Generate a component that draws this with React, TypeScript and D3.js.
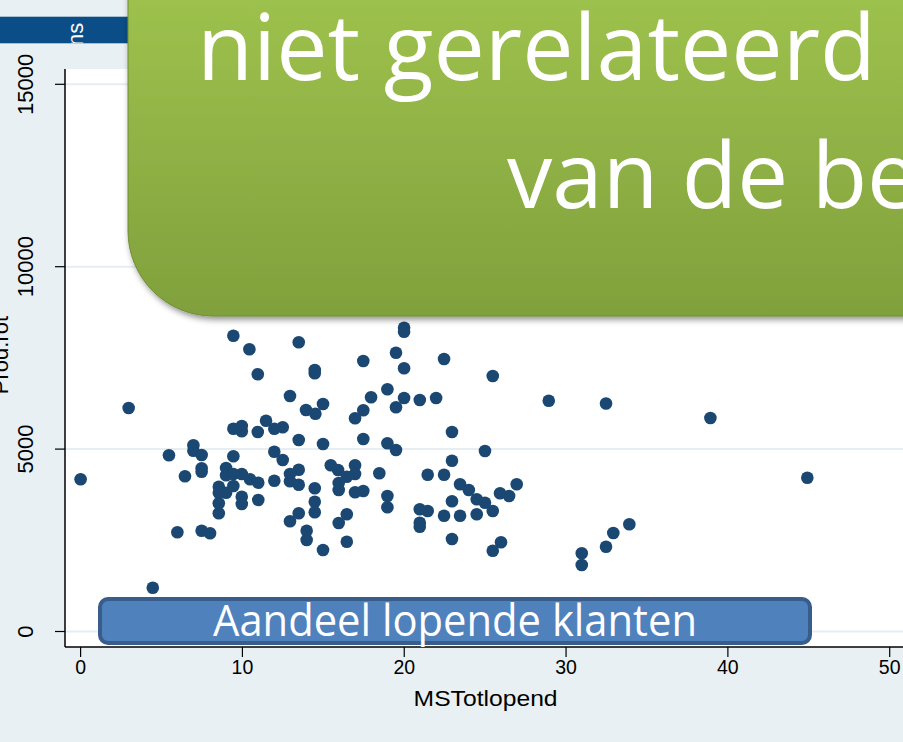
import React from "react";
import * as d3 from "d3";

const xValues = [
  9.44, 10.43, 13.48, 10.95, 14.47, 14.47, 12.94, 2.97, 13.93, 14.51, 14.98,
  9.44, 9.96, 9.96, 10.95, 11.46, 11.97, 12.49, 13.48, 14.98, 6.97, 6.97, 7.48,
  5.46, 9.44, 11.97, 12.49, 15.46, 7.48, 7.48, 8.99, 13.48, 15.91, 0, 6.45,
  8.99, 9.44, 9.96, 10.47, 10.98, 11.97, 12.94, 12.94, 13.48, 8.54, 9.44, 8.54,
  8.99, 14.47, 15.95, 15.95, 9.96, 9.96, 10.98, 8.54, 8.54, 14.47, 14.47, 13.48,
  12.94, 15.95, 5.98, 7.48, 8.0, 13.97, 13.97, 14.98, 4.46,
  19.99, 19.99, 19.49, 17.47, 22.46, 19.99, 25.47, 18.96, 17.95, 19.99, 20.96,
  21.97, 19.49, 28.93, 17.47, 16.96, 17.47, 18.96, 19.49, 22.95, 24.99, 22.95,
  16.96, 16.96, 16.45, 16.96, 17.47, 18.46, 18.96, 18.96, 16.45, 16.45, 21.45,
  22.46, 23.45, 23.99, 22.95, 24.48, 24.99, 25.47, 25.92, 26.48, 26.95, 20.96,
  20.96, 20.96, 21.45, 22.46, 23.45, 24.48, 22.95, 25.47, 25.98, 30.97, 30.97,
  32.47, 38.92, 44.91, 32.47, 32.92, 33.91,
];
const yValues = [
  8109, 7736, 7928, 7050, 7168, 7078, 6456, 6127, 6072, 5970, 6236,
  5559, 5633, 5488, 5469, 5779, 5559, 5598, 5250, 5140, 5104, 4956, 4838,
  4830, 4803, 4929, 4701, 4556, 4474, 4380, 4482, 4435, 4427, 4172, 4254,
  4282, 4317, 4317, 4172, 4079, 4134, 4317, 4117, 4024, 3969, 3988, 3805,
  3805, 3925, 4071, 3879, 3695, 3495, 3605, 3514, 3240, 3558, 3268, 3240,
  3021, 2974, 2719, 2763, 2692, 2763, 2508, 2234, 1201,
  8328, 8218, 7643, 7415, 7470, 7215, 7004, 6639, 6420, 6401, 6346,
  6401, 6146, 6327, 6064, 5844, 5277, 5159, 4975, 5469, 4948, 4682,
  4556, 4317, 4243, 3816, 3851, 4337, 3714, 3405, 3213, 2462, 4298,
  4298, 4035, 3879, 3569, 3624, 3531, 3303, 3788, 3714, 4035, 3350,
  2982, 2873, 3303, 3174, 3174, 3213, 2536, 2215, 2445, 2144, 1823,
  6250, 5852, 4216, 2325, 2700, 2939,
];
const xTicks = [0, 10, 20, 30, 40, 50];
const yTicks = [0, 5000, 10000, 15000];
const xTitle = "MSTotlopend";
const yTitle = "Prod.rot";
const headlineLine1 = "niet gerelateerd";
const headlineLine2 = "van de be";
const bannerText = "Aandeel lopende klanten";

export default function App() {
  const W = 903;
  const H = 742;
  const x = d3.scaleLinear().domain([0, 50]).range([80.6, 889.7]);
  const y = d3.scaleLinear().domain([0, 15000]).range([631.5, 84.3]);
  const plotLeft = 65;
  const plotTop = 69;
  const plotBottom = 647;
  const points = xValues.map((v, i) => ({ x: v, y: yValues[i] }));

  // green box path: left edge at 128, bottom at 316, bottom-left radius 85
  const gx = 128, gb = 316, gr = 85;
  const greenPath = `M${gx},-20 L${W + 40},-20 L${W + 40},${gb} L${gx + gr},${gb} A${gr},${gr} 0 0 1 ${gx},${gb - gr} Z`;

  return (
    <svg
      width={W}
      height={H}
      viewBox={`0 0 ${W} ${H}`}
      style={{ position: "absolute", left: 0, top: 0, display: "block" }}
    >
      <defs>
        <linearGradient id="greenGrad" x1="0" y1="0" x2="0" y2="1">
          <stop offset="0%" stopColor="#9fc34e" />
          <stop offset="100%" stopColor="#80a03c" />
        </linearGradient>
        <filter id="shadow" x="-10%" y="-10%" width="130%" height="130%">
          <feDropShadow dx="2" dy="3" stdDeviation="3" floodColor="#000" floodOpacity="0.45" />
        </filter>
        <clipPath id="barClip">
          <rect x={0} y={16.7} width={130} height={26.6} />
        </clipPath>
      </defs>

      {/* background */}
      <rect x={0} y={0} width={W} height={H} fill="#e9f0f3" />
      {/* top blue bar */}
      <rect x={0} y={16.7} width={130} height={26.6} fill="#0b4d86" />
      <g clipPath="url(#barClip)">
        <text
          transform="translate(83,46) rotate(-90)"
          fill="#fff"
          fontFamily="Liberation Sans, Arial, sans-serif"
          fontSize={22}
        >
          ns
        </text>
      </g>

      {/* plot region */}
      <rect x={plotLeft} y={plotTop} width={W - plotLeft} height={plotBottom - plotTop} fill="#ffffff" />
      {yTicks.map((t) => (
        <line key={"g" + t} x1={plotLeft} x2={W} y1={y(t)} y2={y(t)} stroke="#e6eef1" strokeWidth={2} />
      ))}

      {/* axes */}
      <line x1={plotLeft} x2={plotLeft} y1={plotTop} y2={plotBottom} stroke="#000" strokeWidth={1.5} />
      <line x1={plotLeft} x2={W} y1={plotBottom} y2={plotBottom} stroke="#000" strokeWidth={1.5} />
      {yTicks.map((t) => (
        <g key={"yt" + t}>
          <line x1={55} x2={plotLeft} y1={y(t)} y2={y(t)} stroke="#000" strokeWidth={1.2} />
          <text
            transform={`translate(33,${y(t)}) rotate(-90)`}
            textAnchor="middle"
            fontFamily="Liberation Sans, Arial, sans-serif"
            fontSize={22}
            fill="#000"
          >
            {t}
          </text>
        </g>
      ))}
      {xTicks.map((t) => (
        <g key={"xt" + t}>
          <line x1={x(t)} x2={x(t)} y1={plotBottom} y2={657} stroke="#000" strokeWidth={1.2} />
          <text
            x={x(t)}
            y={674}
            textAnchor="middle"
            fontFamily="Liberation Sans, Arial, sans-serif"
            fontSize={19.5}
            fill="#000"
          >
            {t}
          </text>
        </g>
      ))}
      <text
        x={413.6}
        y={706}
        textLength={144}
        lengthAdjust="spacingAndGlyphs"
        fontFamily="Liberation Sans, Arial, sans-serif"
        fontSize={22}
        fill="#000"
      >
        {xTitle}
      </text>
      <text
        transform="translate(8,355) rotate(-90)"
        textAnchor="middle"
        fontFamily="Liberation Sans, Arial, sans-serif"
        fontSize={22}
        fill="#000"
      >
        {yTitle}
      </text>

      {/* points */}
      {points.map((p, i) => (
        <circle key={i} cx={x(p.x)} cy={y(p.y)} r={6.3} fill="#1b4872" />
      ))}

      {/* blue banner */}
      <rect x={100} y={599} width={710} height={44} rx={8} ry={8} fill="#4f81bd" stroke="#385d8a" strokeWidth={4} />
      <text
        x={213}
        y={636}
        textLength={484}
        lengthAdjust="spacingAndGlyphs"
        fontFamily="Open Sans, sans-serif"
        fontSize={43}
        fill="#ffffff"
      >
        {bannerText}
      </text>

      {/* green callout */}
      <path d={greenPath} fill="url(#greenGrad)" stroke="#6f8c32" strokeWidth={1} filter="url(#shadow)" />
      <text
        x={197}
        y={79.5}
        textLength={679}
        lengthAdjust="spacingAndGlyphs"
        fontFamily="Open Sans, sans-serif"
        fontSize={92}
        fill="#ffffff"
      >
        {headlineLine1}
      </text>
      <text
        x={507}
        y={207.5}
        textLength={411}
        lengthAdjust="spacingAndGlyphs"
        fontFamily="Open Sans, sans-serif"
        fontSize={92}
        fill="#ffffff"
      >
        {headlineLine2}
      </text>
    </svg>
  );
}
